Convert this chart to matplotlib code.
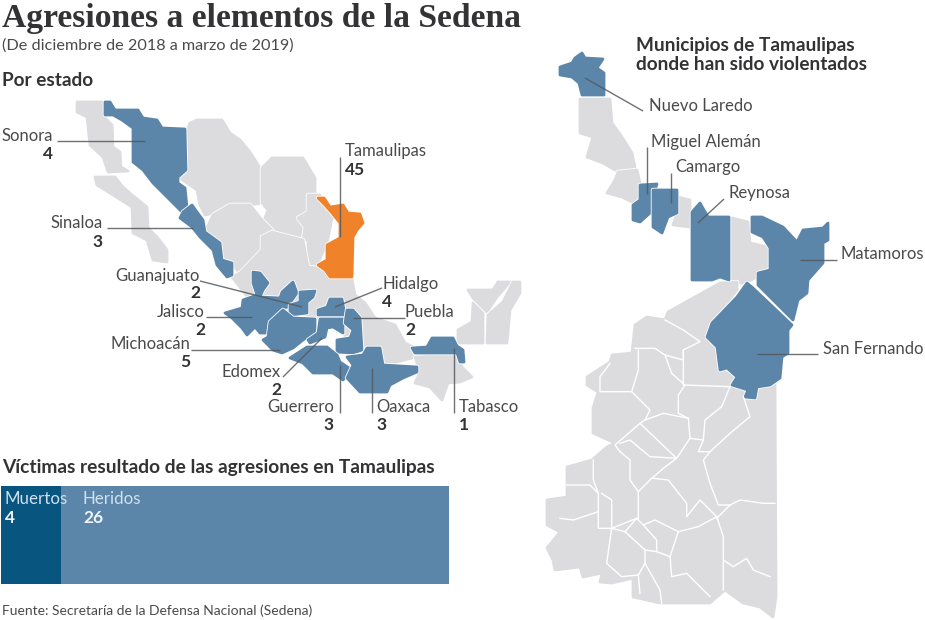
import matplotlib

matplotlib.use("Agg")
import matplotlib.pyplot as plt
from matplotlib.patches import Polygon

plt.rcParams["font.family"] = ["Lato", "DejaVu Sans"]

GRAY = "#dcdcde"
BLUE = "#5b86a9"
DARK_BLUE = "#08557f"
ORANGE = "#f0832a"
TEXT = "#4a4a4c"
DARK_TEXT = "#333335"
LINE = "#55595c"

# bar values
victim_labels = ["Muertos", "Heridos"]
victim_values = [4, 26]

# state labels: name, count
state_names = ["Sonora", "Sinaloa", "Guanajuato", "Jalisco", "Michoacán", "Edomex", "Guerrero",
               "Oaxaca", "Tabasco", "Puebla", "Hidalgo", "Tamaulipas"]
state_counts = [4, 3, 2, 2, 5, 2, 3, 3, 1, 2, 4, 45]
town_names = ["Nuevo Laredo", "Miguel Alemán", "Camargo", "Reynosa", "Matamoros", "San Fernando"]

# map outlines, traced in image pixels
mx_gray = [
    [(77, 102), (102, 102), (102, 115), (112, 125), (113, 147), (120, 152), (121, 167), (128, 171),
     (108, 172), (103, 157), (90, 145), (87, 117), (77, 112)],
    [(95, 177), (115, 177), (123, 187), (132, 195), (147, 207), (148, 228), (157, 237), (167, 250),
     (167, 262), (153, 260), (147, 240), (133, 233), (132, 207), (113, 195), (97, 185)],
    [(190, 123), (197, 120), (222, 120), (230, 133), (240, 140), (250, 152), (260, 168), (261, 203),
     (250, 205), (240, 208), (228, 203), (218, 212), (205, 215), (200, 205), (197, 190), (180, 178),
     (187, 170), (187, 130)],
    [(272, 158), (303, 158), (315, 178), (315, 193), (308, 197), (308, 212), (298, 218), (305, 227),
     (303, 240), (272, 230), (262, 225), (268, 210), (262, 203), (262, 168)],
    [(308, 195), (320, 195), (327, 207), (333, 213), (327, 243), (318, 263), (308, 267), (308, 240),
     (303, 240), (305, 227), (298, 218), (308, 212)],
    [(213, 215), (230, 205), (250, 205), (262, 220), (272, 230), (262, 237), (262, 250), (250, 265),
     (240, 273), (230, 262), (222, 260), (220, 243), (205, 232)],
    # centre, behind the blue states
    [(232, 277), (240, 273), (262, 250), (262, 237), (272, 232), (303, 240), (308, 267), (318, 268),
     (330, 278), (352, 280), (355, 295), (365, 303), (375, 318), (395, 325), (405, 343), (415, 348),
     (412, 358), (385, 365), (367, 345), (345, 350), (345, 318), (318, 318), (282, 310), (250, 300)],
    [(415, 357), (457, 355), (462, 367), (472, 377), (460, 382), (448, 383), (442, 400), (430, 387),
     (415, 383), (420, 372)],
    [(458, 343), (458, 330), (472, 322), (473, 303), (483, 313), (483, 343)],
    [(468, 290), (493, 290), (498, 282), (510, 282), (497, 297), (487, 312), (473, 298)],
    [(488, 315), (503, 302), (513, 282), (520, 282), (520, 293), (510, 310), (507, 343), (487, 343)],
]

mx_blue = [
    [(105, 102), (110, 102), (115, 110), (138, 110), (143, 118), (157, 120), (162, 128), (185, 129),
     (186, 170), (178, 177), (178, 183), (185, 188), (187, 207), (182, 212), (167, 197), (153, 183),
     (143, 170), (133, 162), (133, 128), (122, 120), (113, 115), (105, 115)],
    [(192, 205), (197, 212), (203, 220), (205, 232), (220, 243), (222, 260), (232, 263), (232, 275),
     (227, 277), (217, 265), (213, 250), (200, 237), (192, 227), (180, 218), (183, 212)],
    [(253, 272), (260, 273), (268, 283), (263, 290), (260, 297), (280, 298), (282, 292), (293, 282),
     (297, 293), (290, 303), (288, 307), (282, 308), (270, 322), (268, 333), (260, 333), (255, 327),
     (247, 335), (242, 328), (232, 318), (225, 313), (242, 308), (243, 300), (257, 295), (253, 283)],
    [(300, 292), (315, 291), (313, 297), (307, 302), (307, 313), (290, 315), (290, 305), (300, 302)],
    [(330, 299), (342, 299), (345, 315), (318, 315), (318, 310), (327, 307)],
    [(283, 310), (293, 318), (315, 319), (315, 332), (303, 340), (293, 348), (282, 353), (273, 350),
     (263, 340), (268, 337), (270, 322)],
    [(320, 319), (343, 319), (343, 333), (333, 327), (327, 328), (325, 337), (310, 343), (308, 340),
     (318, 333)],
    [(347, 310), (353, 310), (360, 318), (362, 350), (353, 353), (337, 352), (337, 340), (350, 338),
     (353, 330), (345, 323)],
    [(290, 358), (307, 347), (327, 347), (337, 355), (340, 362), (352, 370), (343, 380), (333, 373),
     (313, 373), (303, 363)],
    [(347, 357), (363, 355), (367, 348), (380, 348), (383, 365), (417, 367), (417, 372), (403, 378),
     (390, 385), (387, 392), (360, 392), (347, 378), (353, 365)],
    [(412, 348), (427, 347), (432, 338), (453, 338), (457, 346), (463, 350), (464, 362), (460, 362),
     (457, 353), (415, 353)],
]

tamaulipas_state = [(318, 198), (324, 198), (330, 207), (343, 205), (348, 213), (360, 214), (363, 223),
                    (357, 230), (353, 237), (352, 277), (330, 277), (325, 270), (318, 265), (327, 260),
                    (327, 245), (340, 238), (340, 223), (332, 213), (325, 205)]

tam_gray = [
    [(580, 99), (610, 99), (612, 123), (622, 137), (632, 153), (635, 167), (615, 170), (603, 163),
     (587, 157), (593, 137), (580, 133)],
    [(618, 172), (637, 170), (640, 183), (638, 197), (632, 202), (622, 197), (607, 193), (615, 180)],
    [(678, 197), (690, 200), (690, 227), (673, 225), (677, 213)],
    [(732, 218), (748, 222), (750, 243), (768, 247), (770, 270), (755, 278), (745, 283), (732, 283)],
    [(720, 283), (737, 282), (737, 290), (713, 320), (705, 338), (717, 350), (720, 370), (733, 375),
     (732, 387), (745, 390), (745, 398), (755, 398), (760, 387), (775, 382), (776, 597), (773, 617),
     (760, 607), (743, 603), (725, 590), (710, 603), (660, 603), (633, 597), (633, 578), (612, 583),
     (600, 582), (602, 573), (583, 577), (580, 567), (555, 570), (553, 560), (547, 548), (560, 532),
     (547, 525), (547, 500), (567, 497), (567, 467), (592, 460), (607, 447), (615, 443), (593, 433),
     (593, 408), (598, 392), (587, 385), (587, 377), (610, 362), (612, 355), (632, 353), (633, 343),
     (635, 325), (647, 317), (665, 320), (668, 312)],
]

tam_blue = [
    [(582, 53), (585, 58), (603, 59), (597, 68), (604, 73), (604, 95), (582, 95), (579, 83), (572, 77),
     (560, 75), (560, 67), (572, 63), (575, 58)],
    [(640, 185), (657, 184), (652, 200), (650, 213), (640, 222), (633, 220), (633, 205), (640, 200)],
    [(653, 190), (677, 190), (677, 213), (668, 217), (662, 233), (653, 227)],
    [(692, 212), (700, 203), (708, 217), (729, 217), (729, 280), (720, 277), (712, 280), (692, 280)],
    [(752, 217), (762, 217), (783, 227), (797, 242), (803, 230), (823, 228), (828, 223), (828, 240),
     (823, 243), (823, 263), (808, 280), (807, 293), (798, 300), (793, 320), (758, 285), (758, 273),
     (770, 270), (770, 248), (763, 237), (752, 232)],
    [(747, 283), (753, 288), (792, 325), (788, 330), (788, 353), (782, 357), (780, 378), (770, 385),
     (757, 387), (755, 398), (745, 397), (748, 390), (732, 385), (737, 377), (727, 368), (720, 370),
     (717, 347), (707, 337), (712, 323), (737, 297)],
]

# white borders between the southern municipios, traced on a 3x crop with origin (540, 270)
tam_borders = [
    [(375, 150), (430, 180), (480, 215), (430, 240), (430, 270), (375, 255), (345, 235), (285, 235)],
    [(430, 240), (430, 345), (570, 350)],
    [(375, 255), (395, 310), (435, 345), (415, 375), (415, 430), (445, 445), (450, 505), (490, 510)],
    [(570, 350), (545, 410), (495, 450), (490, 510), (475, 545), (510, 545), (570, 490), (630, 440), (610, 380)],
    [(295, 240), (295, 300), (275, 365), (180, 365), (180, 320), (210, 280)],
    [(275, 365), (330, 420), (315, 450), (300, 460), (225, 525), (240, 545)],
    [(315, 450), (370, 430), (445, 445)],
    [(300, 460), (410, 565), (370, 595), (335, 625), (295, 665), (295, 745)],
    [(240, 520), (270, 510), (330, 560), (410, 565), (450, 505)],
    [(240, 545), (270, 570), (270, 630), (295, 665)],
    [(160, 570), (160, 630), (175, 670), (175, 775), (215, 775), (215, 690), (185, 670)],
    [(80, 645), (150, 645), (175, 670)],
    [(60, 745), (100, 750), (175, 725)],
    [(340, 625), (385, 630), (440, 700), (440, 740), (480, 690), (530, 740), (475, 770), (415, 785),
     (345, 750), (310, 765), (290, 745), (215, 775)],
    [(290, 745), (255, 785), (315, 840), (350, 845), (390, 860), (410, 800), (415, 785)],
    [(310, 765), (350, 810), (350, 845)],
    [(215, 775), (255, 785)],
    [(215, 775), (200, 880), (245, 920), (295, 915), (315, 880), (315, 840)],
    [(315, 880), (360, 960), (365, 1000)],
    [(295, 915), (300, 970)],
    [(390, 860), (395, 920), (440, 910), (490, 960), (510, 980)],
    [(530, 740), (550, 800), (550, 960)],
    [(550, 870), (580, 890), (620, 865), (640, 900), (690, 920)],
    [(510, 545), (490, 570), (510, 640), (535, 705), (570, 705), (600, 690), (670, 700), (705, 700)],
    [(570, 705), (530, 745)],
]

# leader lines, (x0, y0, x1, y1) in image pixels
state_leaders = [(57, 141, 145, 141), (107, 228, 193, 228), (200, 281, 302, 307), (206, 317, 252, 317),
                 (191, 350, 280, 350), (283, 377, 322, 338), (340, 413, 340, 365), (372, 413, 372, 368),
                 (454, 413, 454, 348), (405, 318, 353, 318), (382, 288, 335, 307), (340, 157, 340, 237)]
town_leaders = [(643, 111, 585, 78), (647, 147, 647, 194), (671, 173, 671, 203), (724, 199, 698, 223),
                (837, 260, 800, 260), (818, 354, 757, 354)]

# label anchors: x, name y, count y, horizontal alignment
state_anchor = [(53, 136, 154, "right"), (103, 223, 242, "right"), (200, 276, 293, "right"),
                (205, 312, 330, "right"), (190, 344, 362, "right"), (281, 372, 390, "right"),
                (334, 407, 425, "right"), (376, 407, 425, "left"), (459, 407, 425, "left"),
                (405, 312, 330, "left"), (382, 284, 302, "left"), (345, 151, 170, "left")]
town_anchor = [(649, 106), (651, 142), (675, 167), (729, 193), (841, 254), (823, 349)]


def draw_regions(ax, regions, color):
    # white halo first, then a same colour stroke to fatten and round the corners
    for pts in regions:
        ax.add_patch(Polygon(pts, closed=True, facecolor="none", edgecolor="white",
                             linewidth=3.2, joinstyle="round"))
        ax.add_patch(Polygon(pts, closed=True, facecolor=color, edgecolor=color,
                             linewidth=2.0, joinstyle="round"))


def draw_leaders(ax, leaders):
    for x0, y0, x1, y1 in leaders:
        ax.plot([x0, x1], [y0, y1], color=LINE, linewidth=1.0, alpha=0.85, solid_capstyle="butt")


fig = plt.figure(figsize=(9.25, 6.2), dpi=100)
ax = fig.add_axes([0, 0, 1, 1])
ax.set_xlim(0, 925)
ax.set_ylim(620, 0)
ax.axis("off")

draw_regions(ax, mx_gray, GRAY)
draw_regions(ax, mx_blue, BLUE)
draw_regions(ax, [tamaulipas_state], ORANGE)
draw_regions(ax, tam_gray, GRAY)
for line in tam_borders:
    ax.plot([540 + x / 3 for x, _ in line], [270 + y / 3 for _, y in line], color="white", linewidth=1.0)
draw_regions(ax, tam_blue, BLUE)
draw_leaders(ax, state_leaders)
draw_leaders(ax, town_leaders)

for name, count, (x, y_name, y_count, ha) in zip(state_names, state_counts, state_anchor):
    ax.text(x, y_name, name, ha=ha, va="center", fontsize=12, color=TEXT)
    ax.text(x, y_count, str(count), ha=ha, va="center", fontsize=12.5, fontweight="bold", color=DARK_TEXT)
for name, (x, y) in zip(town_names, town_anchor):
    ax.text(x, y, name, ha="left", va="center", fontsize=12, color=TEXT)

ax.text(2, 19, "Agresiones a elementos de la Sedena", family="Liberation Serif", fontweight="bold",
        fontsize=24.2, va="center", color=DARK_TEXT)
ax.text(2, 46, "(De diciembre de 2018 a marzo de 2019)", fontsize=11.7, va="center", color=TEXT)
ax.text(2, 80, "Por estado", fontsize=13.7, fontweight="bold", va="center", color=DARK_TEXT)
ax.text(636, 46, "Municipios de Tamaulipas", fontsize=13.7, fontweight="bold", va="center", color=DARK_TEXT)
ax.text(636, 64, "donde han sido violentados", fontsize=13.7, fontweight="bold", va="center", color=DARK_TEXT)
ax.text(2, 467, "Víctimas resultado de las agresiones en Tamaulipas", fontsize=13.8, fontweight="bold",
        va="center", color=DARK_TEXT)
ax.text(2, 611, "Fuente: Secretaría de la Defensa Nacional (Sedena)", fontsize=10, va="center", color=TEXT)

# stacked bar
ax_bar = fig.add_axes([1 / 925, 1 - 584 / 620, 448 / 925, 98 / 620])
ax_bar.set_xlim(0, sum(victim_values))
ax_bar.set_ylim(0, 1)
ax_bar.axis("off")
ax_bar.barh(0.5, victim_values[0], height=1, color=DARK_BLUE)
ax_bar.barh(0.5, victim_values[1], left=victim_values[0], height=1, color=BLUE)

ax.text(5, 499, victim_labels[0], fontsize=12.2, va="center", color="#cfe0ee", zorder=5)
ax.text(5, 518, str(victim_values[0]), fontsize=12.5, fontweight="bold", va="center", color="#eef4f8", zorder=5)
ax.text(83, 499, victim_labels[1], fontsize=12.2, va="center", color="#cfe0ee", zorder=5)
ax.text(83, 518, str(victim_values[1]), fontsize=12.5, fontweight="bold", va="center", color="#eef4f8", zorder=5)
ax.set_zorder(ax_bar.get_zorder() + 1)
ax.patch.set_visible(False)

fig.savefig("out.png", dpi=100)
